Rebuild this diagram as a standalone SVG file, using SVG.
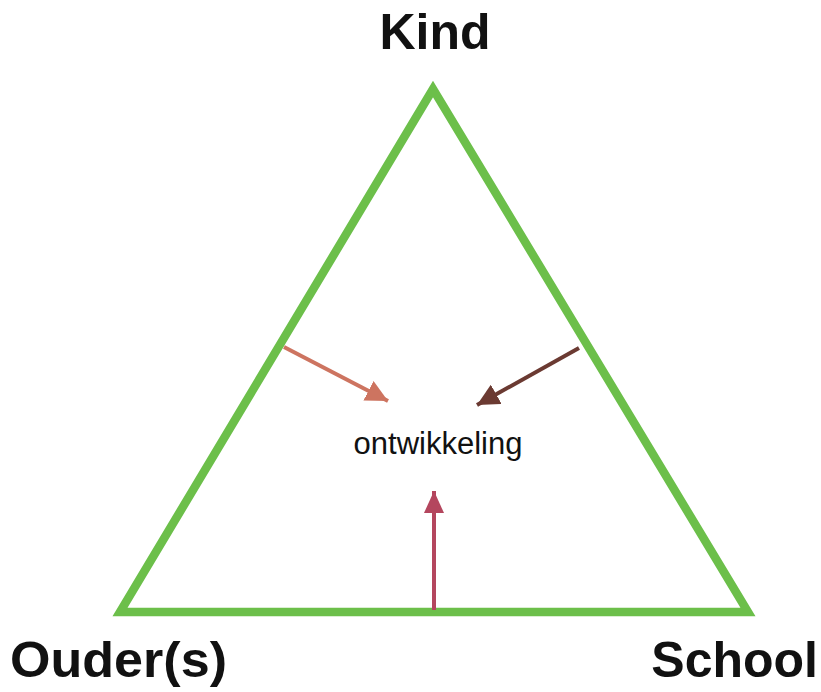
<svg xmlns="http://www.w3.org/2000/svg" width="821" height="692" viewBox="0 0 821 692">
<style>
.lbl{font-family:"Liberation Sans",Arial,sans-serif;font-weight:bold;font-size:50px;fill:#111;}
.mid{font-family:"Liberation Sans",Arial,sans-serif;font-size:31px;fill:#111;}
.tri{fill:none;stroke:#6cbf4a;stroke-width:8.5;stroke-linejoin:miter;}
.arr{fill:none;stroke-width:4;}
</style>
<defs>
<marker id="hL" markerUnits="userSpaceOnUse" markerWidth="24" markerHeight="22" refX="22" refY="11" orient="auto"><path d="M0,0 L22,11 L0,22 Z" fill="#cd7460"/></marker>
<marker id="hR" markerUnits="userSpaceOnUse" markerWidth="24" markerHeight="22" refX="22" refY="11" orient="auto"><path d="M0,0 L22,11 L0,22 Z" fill="#6b3a32"/></marker>
<marker id="hU" markerUnits="userSpaceOnUse" markerWidth="24" markerHeight="22" refX="22" refY="11" orient="auto"><path d="M0,1 L22,11 L0,21 Z" fill="#b4465e"/></marker>
</defs>
<rect width="821" height="692" fill="#fff"/>
<g id="triangle"><polygon class="tri" points="433,89 120,612 748,612"/></g>
<g id="kind"><text class="lbl" x="435" y="49" text-anchor="middle">Kind</text></g>
<g id="ouders"><text class="lbl" x="10" y="677" textLength="217" lengthAdjust="spacingAndGlyphs">Ouder(s)</text></g>
<g id="school"><text class="lbl" x="818" y="677" text-anchor="end">School</text></g>
<g id="ontwikkeling"><text class="mid" x="438" y="454" text-anchor="middle">ontwikkeling</text></g>
<g id="connectors">
<line class="arr" stroke="#cd7460" x1="284" y1="347" x2="388" y2="401" marker-end="url(#hL)"/>
<line class="arr" stroke="#6b3a32" x1="579" y1="348" x2="477" y2="405" marker-end="url(#hR)"/>
<line class="arr" stroke="#b4465e" x1="434" y1="610" x2="434" y2="491" marker-end="url(#hU)"/>
</g>
</svg>
